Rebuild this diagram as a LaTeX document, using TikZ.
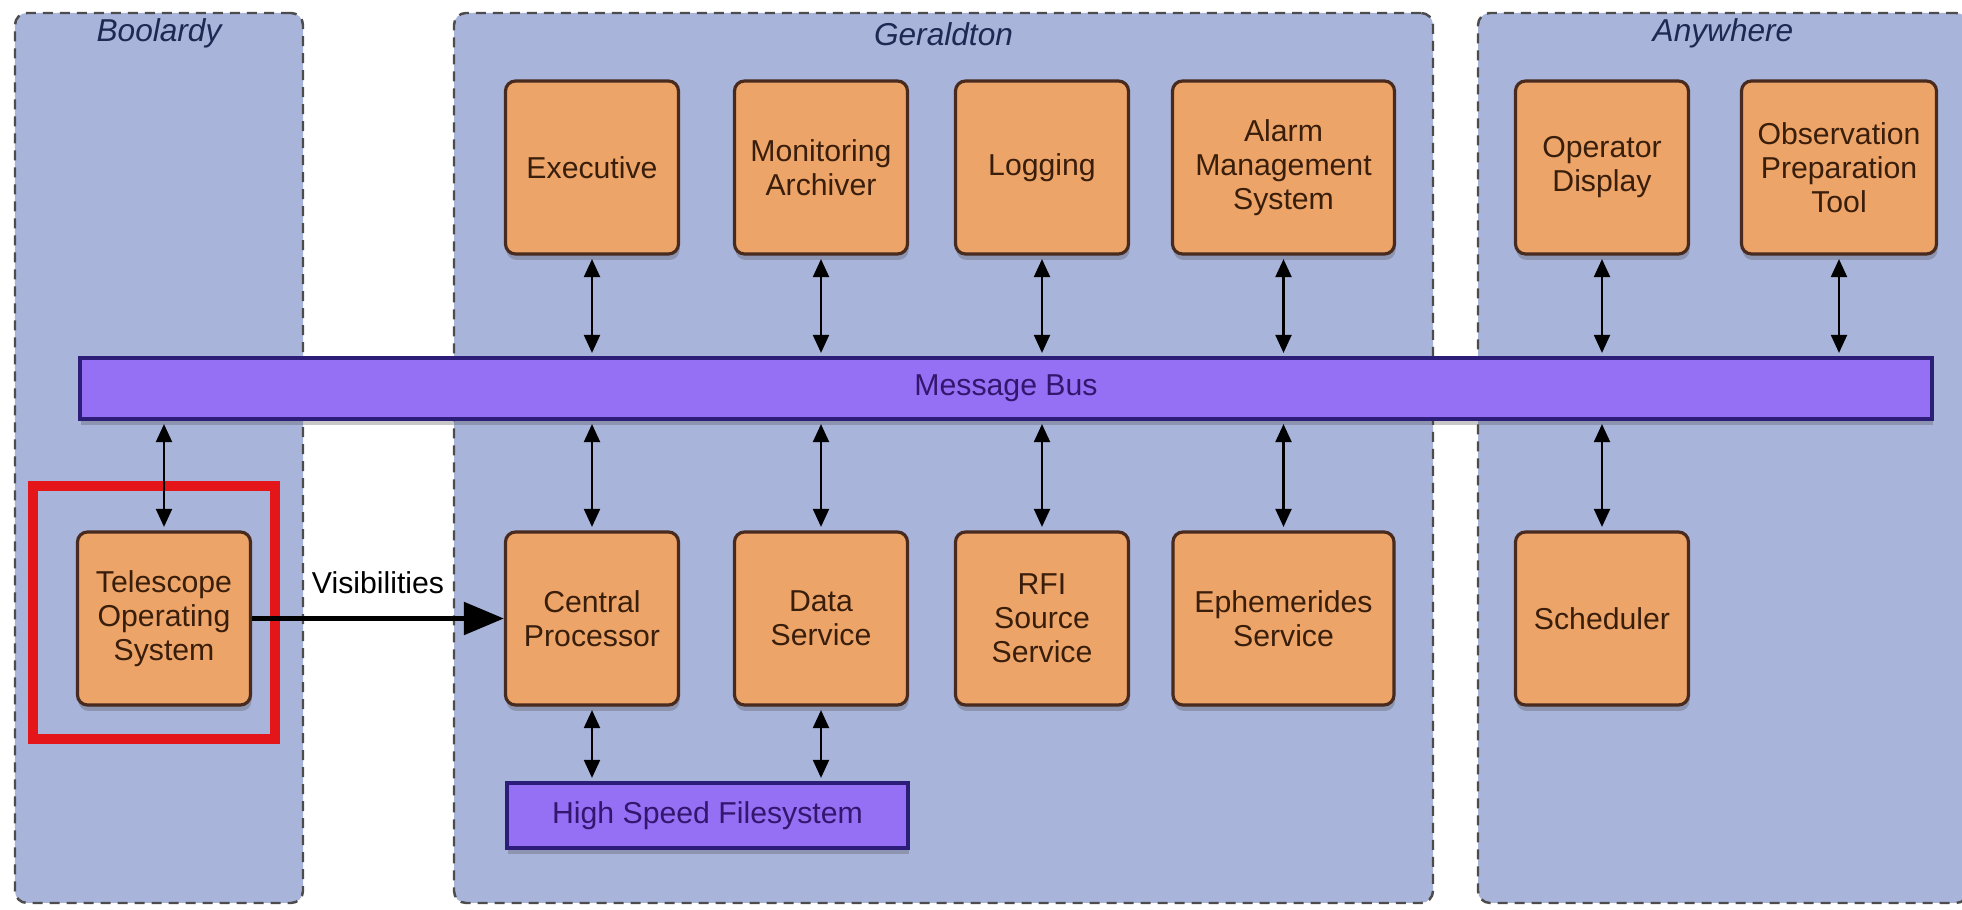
\documentclass[tikz,border=0pt]{standalone}
\usepackage{fontspec}
\setmainfont{Liberation Sans}
\usetikzlibrary{shapes, arrows.meta, calc, fit, shadows}

\definecolor{siteBlue}{RGB}{168,180,218}
\definecolor{boxOrange}{RGB}{236,164,104}
\definecolor{boxBorder}{RGB}{72,42,30}
\definecolor{busPurple}{RGB}{150,112,244}
\definecolor{busBorder}{RGB}{44,30,120}
\definecolor{busText}{RGB}{52,22,110}
\definecolor{labelNavy}{RGB}{30,40,82}
\definecolor{boxText}{RGB}{58,30,12}
\definecolor{frameRed}{RGB}{228,22,26}

\tikzstyle{site}      = [rectangle,
                         rounded corners=0.12cm,
                         minimum height=8.9cm,
                         draw=black!70,
                         line width=0.7pt,
                         dash pattern=on 0.1cm off 0.07cm,
                         fill=siteBlue]
\tikzstyle{siteLabel} = [inner sep=0pt,
                         font=\fontsize{9}{10}\selectfont\itshape,
                         text=labelNavy]
\tikzstyle{component} = [rectangle,
                         rounded corners=0.1cm,
                         minimum width=1.73cm,
                         minimum height=1.73cm,
                         align=center,
                         draw=boxBorder,
                         line width=0.9pt,
                         fill=boxOrange,
                         text=boxText,
                         font=\fontsize{8.6}{9.7}\selectfont,
                         drop shadow={shadow xshift=0.01cm, shadow yshift=-0.06cm,
                                      opacity=0.3, fill=black!70}]
\tikzstyle{busBar}    = [rectangle,
                         draw=busBorder,
                         line width=0.9pt,
                         fill=busPurple,
                         text=busText,
                         font=\fontsize{8.6}{9.7}\selectfont,
                         drop shadow={shadow xshift=0.01cm, shadow yshift=-0.06cm,
                                      opacity=0.3, fill=black!70}]
\tikzstyle{highlight} = [rectangle,
                         draw=frameRed,
                         line width=2.6pt]
\tikzstyle{arrow}     = [line width=0.6pt,
                         {Triangle[length=0.18cm,width=0.16cm]}-{Triangle[length=0.18cm,width=0.16cm]},
                         shorten >=1pt, shorten <=1pt]
\tikzstyle{dataArrow} = [line width=1.5pt,
                         -{Triangle[length=0.4cm,width=0.32cm]}]

\begin{document}
\begin{tikzpicture}
\fill [white] (0,0) rectangle (19.62,-9.10);
\useasboundingbox (0,0) rectangle (19.62,-9.10);

\node [site, minimum width=2.88cm] (Boolardy)  at (1.59,-4.58) {};
\node [site, minimum width=9.79cm] (Geraldton) at ([shift={(7.845,0)}] Boolardy) {};
\node [site, minimum width=4.90cm] (Anywhere)  at ([shift={(7.795,0)}] Geraldton) {};

\node [siteLabel] (BoolardyLabel)  at ([shift={(0,-0.22)}] Boolardy.north) {Boolardy};
\node [siteLabel] (GeraldtonLabel) at ([shift={(0,-0.22)}] Geraldton.north) {Geraldton};
\node [siteLabel] (AnywhereLabel)  at ([shift={(0,-0.22)}] Anywhere.north) {Anywhere};


\node [component] (Exec)                        at (5.92,-1.675) {Executive};
\node [component] (MonArch)                     at ([shift={(2.29,0)}] Exec) {Monitoring \\ Archiver};
\node [component] (Logging)                     at ([shift={(2.21,0)}] MonArch) {Logging};
\node [component, minimum width=2.22cm] (Alarm) at ([shift={(2.415,0)}] Logging) {
    Alarm \\ Management \\ System
    };
\node [component] (OpDisplay)                   at ([shift={(3.185,0)}] Alarm) {Operator \\ Display};
\node [component, minimum width=1.95cm] (ObsPrep) at ([shift={(2.37,0)}] OpDisplay) {
    Observation \\ Preparation \\ Tool
    };

\node [busBar, minimum width=18.52cm, minimum height=0.61cm] (Bus) at ([shift={(4.14,-2.21)}] Exec) {Message Bus};


\node [component] (CentralProc)                 at ([shift={(0,-4.51)}] Exec) {Central \\ Processor};
\node [component] (DataSvc)                     at ([shift={(0,-4.51)}] MonArch) {Data \\ Service};
\node [component] (RFI)                         at ([shift={(0,-4.51)}] Logging) {RFI \\ Source \\ Service};
\node [component, minimum width=2.21cm] (Ephem) at ([shift={(0,-4.51)}] Alarm) {Ephemerides \\ Service};
\node [component] (Scheduler)                   at ([shift={(0,-4.51)}] OpDisplay) {Scheduler};

\node [component] (TOS) at ([shift={(-4.28,0)}] CentralProc) {
    Telescope \\ Operating \\ System
    };
\node [busBar, minimum width=4.01cm, minimum height=0.65cm] (HSF) at ([shift={(1.155,-1.97)}] CentralProc) {
    High Speed Filesystem
    };

\node [highlight, minimum width=2.42cm, minimum height=2.53cm] (TOSFrame) at ([shift={(-0.10,0.06)}] TOS) {};


\draw [arrow] (Exec.south) -- (Exec.south |- Bus.north);
\draw [arrow] (MonArch.south) -- (MonArch.south |- Bus.north);
\draw [arrow] (Logging.south) -- (Logging.south |- Bus.north);
\draw [arrow] (Alarm.south) -- (Alarm.south |- Bus.north);
\draw [arrow] (OpDisplay.south) -- (OpDisplay.south |- Bus.north);
\draw [arrow] (ObsPrep.south) -- (ObsPrep.south |- Bus.north);

\draw [arrow] (Bus.south -| TOS.north) -- (TOS.north);
\draw [arrow] (Bus.south -| CentralProc.north) -- (CentralProc.north);
\draw [arrow] (Bus.south -| DataSvc.north) -- (DataSvc.north);
\draw [arrow] (Bus.south -| RFI.north) -- (RFI.north);
\draw [arrow] (Bus.south -| Ephem.north) -- (Ephem.north);
\draw [arrow] (Bus.south -| Scheduler.north) -- (Scheduler.north);

\draw [arrow] (CentralProc.south) -- (CentralProc.south |- HSF.north);
\draw [arrow] (DataSvc.south) -- (DataSvc.south |- HSF.north);

\draw [dataArrow] (TOS) -- node [above=0.1cm, font=\fontsize{8.6}{9.7}\selectfont] (VisLabel) {Visibilities} (CentralProc);

\end{tikzpicture}
\end{document}
